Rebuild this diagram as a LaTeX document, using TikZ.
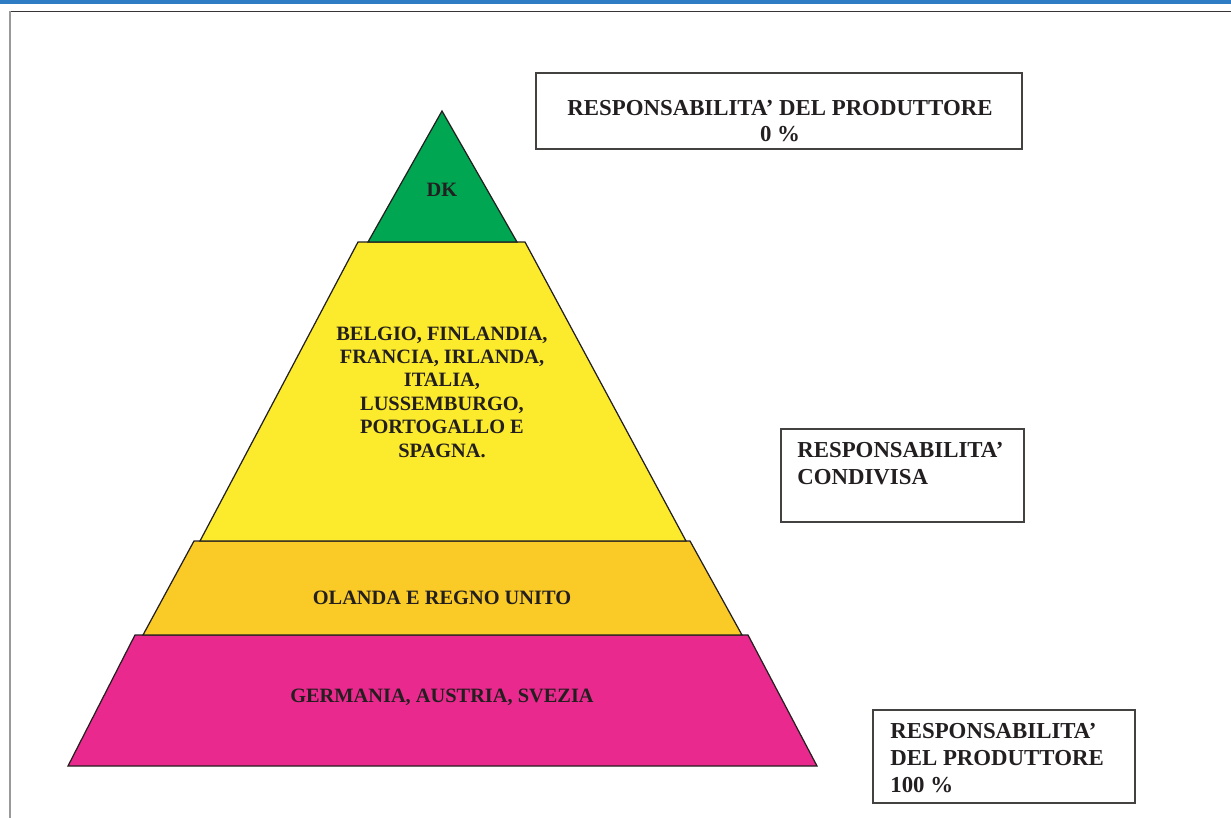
\documentclass[tikz,border=0pt]{standalone}
\usepackage{fontspec}
\setmainfont{Liberation Serif}
\usepackage{tikz}
\usetikzlibrary{positioning}

\definecolor{ink}{RGB}{35,31,32}
\definecolor{band}{RGB}{46,125,196}
\definecolor{dkgreen}{RGB}{0,166,81}
\definecolor{midyellow}{RGB}{252,234,44}
\definecolor{lowyellow}{RGB}{250,202,38}
\definecolor{basemagenta}{RGB}{233,41,141}

\tikzset{
    layer/.style={draw=ink, line width=0.7pt, line join=miter},
    tier/.style={text=ink, font=\fontsize{11.6}{13.3}\selectfont\bfseries, align=center, inner sep=0pt},
    box/.style={draw=ink!85, line width=0.8pt, rectangle, inner sep=0pt},
    boxtext/.style={text=ink, font=\fontsize{13}{15.3}\selectfont\bfseries, inner sep=0pt}
}

\begin{document}
\begin{tikzpicture}[x=0.02cm, y=-0.02cm]
\useasboundingbox (0,0) rectangle (1231,818);

% page frame
\fill[band] (0,0) rectangle (1231,4);
\draw[ink!90, line width=0.5pt] (10,11) -- (1231,11);
\draw[gray!80, line width=0.8pt] (10,11) -- (10,818);

% pyramid, bottom up
\foreach \col/\a/\b/\c/\d/\ya/\yb in {basemagenta/135/748/817/68/635/766,
                                     lowyellow/194/690/742/143/541/635,
                                     midyellow/358/525/686/200/242/541}
    \filldraw[layer, fill=\col] (\a,\ya) -- (\b,\ya) -- (\c,\yb) -- (\d,\yb) -- cycle;
\filldraw[layer, fill=dkgreen] (442,111) -- (517,242) -- (368,242) -- cycle;

\path (442,196) node[tier, anchor=base] (L-1) {DK};
\path (442,392) node[tier] (L-2) {BELGIO, FINLANDIA,\\FRANCIA, IRLANDA,\\ITALIA,\\LUSSEMBURGO,\\PORTOGALLO E\\SPAGNA.};
\path (442,604) node[tier, anchor=base] (L-3) {OLANDA E REGNO UNITO};
\path (442,702) node[tier, anchor=base] (L-4) {GERMANIA, AUSTRIA, SVEZIA};

% responsibility boxes
\path (779,111) node[box, minimum width=9.72cm, minimum height=1.52cm] (R-0) {};
\path (780,121) node[boxtext, align=center] (R-0-txt) {RESPONSABILITA’ DEL PRODUTTORE\\0 \%};

\path (902.5,475.5) node[box, minimum width=4.86cm, minimum height=1.86cm] (R-mid) {};
\path (797,442) node[boxtext, align=left, anchor=north west] (R-mid-txt) {RESPONSABILITA’\\CONDIVISA};

\path (1004,756.5) node[box, minimum width=5.24cm, minimum height=1.86cm] (R-100) {};
\path (890,723) node[boxtext, align=left, anchor=north west] (R-100-txt) {RESPONSABILITA’\\DEL PRODUTTORE\\100 \%};
\end{tikzpicture}
\end{document}
